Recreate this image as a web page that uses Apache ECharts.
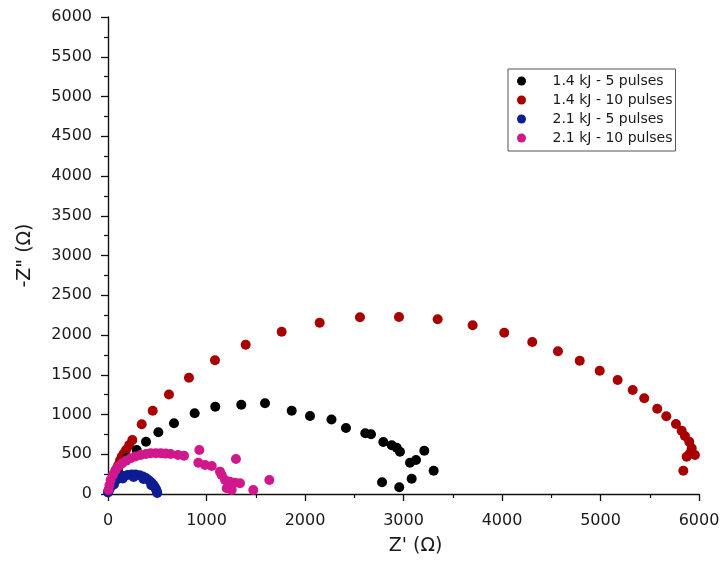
<!DOCTYPE html>
<html>
<head>
<meta charset="utf-8">
<script src="https://cdn.jsdelivr.net/npm/echarts@6/dist/echarts.min.js"></script>
<style>
html,body{margin:0;padding:0;background:#fff;}
#chart{width:725px;height:578px;}
</style>
</head>
<body>
<div id="chart"></div>
<script>
// Series names
const seriesNames = ['1.4 kJ - 5 pulses', '1.4 kJ - 10 pulses', '2.1 kJ - 5 pulses', '2.1 kJ - 10 pulses'];

// Axis ticks
const xTicks = [0, 1000, 2000, 3000, 4000, 5000, 6000];
const yTicks = [0, 500, 1000, 1500, 2000, 2500, 3000, 3500, 4000, 4500, 5000, 5500, 6000];

// 1.4 kJ - 5 pulses (black)  [Z', -Z'']
const black5 = [
  [41, 176], [102, 302], [193, 453], [291, 553], [386, 658], [511, 776], [670, 889],
  [880, 1015], [1089, 1098], [1353, 1123], [1594, 1141], [1865, 1048], [2051, 981],
  [2269, 937], [2416, 830], [2612, 764], [2670, 751], [2795, 654], [2880, 613],
  [2931, 582], [2964, 532], [3066, 394], [3127, 428], [3211, 545], [3306, 293],
  [3083, 192], [2957, 84], [2782, 147]
];

// 1.4 kJ - 10 pulses (red)
const red10 = [
  [5, 40], [20, 100], [35, 150], [48, 190], [60, 240], [71, 280], [88, 320], [105, 365],
  [122, 420], [139, 469], [160, 510], [183, 553], [215, 615], [247, 679], [342, 877],
  [454, 1048], [619, 1252], [822, 1463], [1086, 1682], [1398, 1878], [1763, 2042],
  [2149, 2155], [2558, 2223], [2954, 2226], [3347, 2198], [3702, 2122], [4023, 2029],
  [4307, 1912], [4568, 1795], [4789, 1677], [4992, 1551], [5174, 1434], [5327, 1308],
  [5444, 1204], [5576, 1073], [5668, 977], [5766, 881], [5824, 796], [5857, 730],
  [5901, 658], [5926, 575], [5908, 512], [5959, 491], [5875, 469], [5841, 293]
];

// 2.1 kJ - 5 pulses (blue)
const blue5 = [
  [0, 20], [10, 50], [22, 80], [35, 108], [50, 135], [70, 162], [95, 185], [125, 207],
  [160, 225], [200, 238], [240, 245], [280, 245], [320, 236], [355, 220], [385, 200],
  [415, 172], [440, 145], [460, 117], [475, 88], [488, 60], [495, 34], [500, 12],
  [60, 120], [150, 195], [260, 215], [360, 190], [440, 110]
];

// 2.1 kJ - 10 pulses (magenta)
const pink10 = [
  [5, 50], [15, 110], [27, 176], [50, 240], [78, 302], [110, 350], [145, 386], [185, 420],
  [230, 449], [280, 472], [332, 491], [385, 503], [433, 512], [485, 514], [535, 512],
  [585, 508], [636, 503], [711, 491], [772, 482], [927, 553], [917, 394], [985, 365],
  [1053, 352], [1137, 281], [1154, 239], [1188, 176], [1239, 155], [1289, 142],
  [1340, 135], [1299, 440], [1205, 72], [1256, 50], [1475, 50], [1638, 176]
];

const colors = ['#000000', '#a80000', '#0d1c94', '#d0188c'];
const datasets = [black5, red10, blue5, pink10];
const zs = [3, 2, 4, 5];

const chart = echarts.init(document.getElementById('chart'), null, {renderer: 'canvas'});
const font = '"DejaVu Sans", Arial, sans-serif';

const axisCommon = {
  type: 'value',
  min: 0,
  max: 6000,
  axisLine: {show: true, onZero: false, lineStyle: {color: '#111', width: 1.4}},
  axisTick: {show: true, inside: false, length: 7, lineStyle: {color: '#111', width: 1.3}},
  minorTick: {show: true, splitNumber: 2, length: 4, lineStyle: {color: '#111', width: 1.2}},
  splitLine: {show: false},
  minorSplitLine: {show: false},
  axisLabel: {color: '#1a1a1a', fontSize: 16, fontFamily: font, formatter: v => String(v)},
  nameTextStyle: {color: '#1a1a1a', fontSize: 19, fontFamily: font}
};

chart.setOption({
  backgroundColor: '#fff',
  animation: false,
  grid: {left: 108, right: 26, top: 17, bottom: 84, containLabel: false},
  xAxis: Object.assign({}, axisCommon, {
    interval: xTicks[1] - xTicks[0],
    name: "Z' (\u03A9)",
    nameLocation: 'middle',
    nameGap: 43,
    nameTextStyle: Object.assign({}, axisCommon.nameTextStyle, {padding: [0, 0, 0, 24]}),
    axisLabel: Object.assign({}, axisCommon.axisLabel, {margin: 19})
  }),
  yAxis: Object.assign({}, axisCommon, {
    interval: yTicks[1] - yTicks[0],
    name: '-Z" (\u03A9)',
    nameLocation: 'middle',
    nameGap: 73,
    nameRotate: 90,
    axisLabel: Object.assign({}, axisCommon.axisLabel, {margin: 16})
  }),
  legend: {
    orient: 'vertical',
    left: 508,
    top: 69,
    padding: [4, 3, 5, 9],
    itemGap: 3,
    itemWidth: 24,
    itemHeight: 9,
    borderColor: '#555',
    borderWidth: 1,
    borderRadius: 0,
    backgroundColor: '#fff',
    textStyle: {fontSize: 14, lineHeight: 16, color: '#1a1a1a', fontFamily: font, padding: [0, 0, 0, 14]},
    data: seriesNames.map((n, i) => ({name: n, icon: 'circle', itemStyle: {color: colors[i]}}))
  },
  series: seriesNames.map((n, i) => ({
    name: n,
    type: 'scatter',
    data: datasets[i],
    symbol: 'circle',
    symbolSize: 10,
    z: zs[i],
    itemStyle: {color: colors[i], opacity: 1},
    emphasis: {disabled: true}
  }))
});
</script>
</body>
</html>
